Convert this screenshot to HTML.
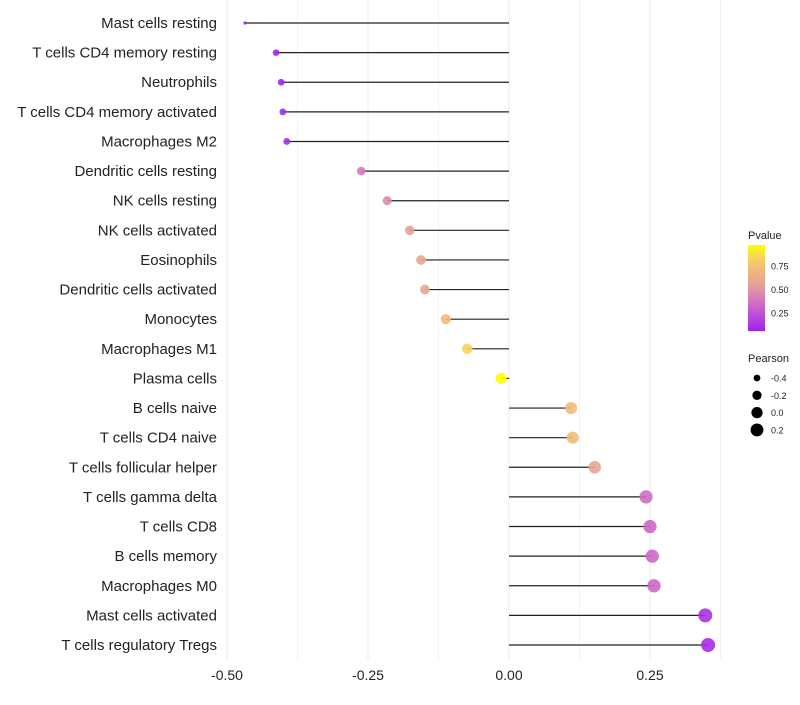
<!DOCTYPE html>
<html><head><meta charset="utf-8"><style>
body{margin:0;background:#fff;font-family:"Liberation Sans",sans-serif}
</style></head><body>
<svg id="chart" width="800" height="700" xmlns="http://www.w3.org/2000/svg"></svg>
<script>
const categories=["Mast cells resting","T cells CD4 memory resting","Neutrophils","T cells CD4 memory activated","Macrophages M2","Dendritic cells resting","NK cells resting","NK cells activated","Eosinophils","Dendritic cells activated","Monocytes","Macrophages M1","Plasma cells","B cells naive","T cells CD4 naive","T cells follicular helper","T cells gamma delta","T cells CD8","B cells memory","Macrophages M0","Mast cells activated","T cells regulatory  Tregs"];
const pearson=[-0.468,-0.413,-0.404,-0.401,-0.394,-0.262,-0.216,-0.176,-0.156,-0.149,-0.112,-0.074,-0.014,0.110,0.113,0.152,0.243,0.250,0.254,0.257,0.348,0.353];
const pvalue=[0.05,0.07,0.08,0.09,0.10,0.40,0.48,0.55,0.58,0.60,0.72,0.85,0.97,0.72,0.72,0.58,0.35,0.33,0.33,0.33,0.12,0.10];
const xTicks=[-0.5,-0.25,0,0.25];
const xTickLabels=["-0.50","-0.25","0.00","0.25"];
const sizeLegend=[-0.4,-0.2,0.0,0.2];
const colorTicks=[0.25,0.5,0.75];

const NS="http://www.w3.org/2000/svg";
const svg=document.getElementById('chart');
const pMin=Math.min(...pearson);
function x(v){return 509+v*564;}
function y(i){return 23+i*(622/21);}
function r(v){if(v<=pMin+1e-9)return 1.6;return Math.sqrt(Math.max(2.5,10.9+50*(v+0.413)));}
const stops=[[0.06,[160,32,240]],[0.35,[207,110,198]],[0.55,[229,161,150]],[0.72,[241,188,119]],[0.85,[245,215,90]],[0.97,[255,255,0]]];
function col(p){
  if(p<=stops[0][0])return `rgb(${stops[0][1]})`;
  for(let k=1;k<stops.length;k++){if(p<=stops[k][0]){const a=stops[k-1],b=stops[k];const t=(p-a[0])/(b[0]-a[0]);return 'rgb('+a[1].map((c,j)=>Math.round(c+(b[1][j]-c)*t)).join(',')+')';}}
  return `rgb(${stops[stops.length-1][1]})`;
}
function el(t,a,txt){const e=document.createElementNS(NS,t);for(const k in a)e.setAttribute(k,a[k]);if(txt!==undefined)e.textContent=txt;svg.appendChild(e);return e;}
for(let g=-0.5;g<=0.375+1e-9;g+=0.125){
  const e=el('line',{x1:x(g),x2:x(g),y1:0,y2:660,stroke:'#ebebeb','stroke-width':Math.abs(g*4-Math.round(g*4))<1e-6?1:0.6});
  
  
}
xTicks.forEach((t,i)=>{
  const e=el('text',{x:x(t),y:680,'font-size':14,'text-anchor':'middle',fill:'#222'},xTickLabels[i]);
  
  
});
categories.forEach((c,i)=>{
  const l=el('text',{x:217,y:y(i)+5,'font-size':15,'text-anchor':'end',fill:'#222'},c);
  
  
  const s=el('line',{x1:x(0),x2:x(pearson[i]),y1:y(i),y2:y(i),stroke:'#222','stroke-width':1.2});
  
  
  const d=el('circle',{cx:x(pearson[i]),cy:y(i),r:r(pearson[i]),fill:col(pvalue[i]),'fill-opacity':0.9});
  
  
});
let t=el('text',{x:748,y:239,'font-size':11,fill:'#222'},'Pvalue');


const defs=el('defs',{});
const lg=document.createElementNS(NS,'linearGradient');lg.setAttribute('id','pg');lg.setAttribute('x1','0');lg.setAttribute('x2','0');lg.setAttribute('y1','1');lg.setAttribute('y2','0');
defs.appendChild(lg);
const pTop=0.97,pBot=0.06,bTop=245,bBot=331;
stops.forEach(s=>{const st=document.createElementNS(NS,'stop');st.setAttribute('offset',(s[0]-pBot)/(pTop-pBot));st.setAttribute('stop-color',`rgb(${s[1]})`);lg.appendChild(st);});
t=el('rect',{x:748,y:bTop,width:17,height:bBot-bTop,fill:'url(#pg)'});


colorTicks.forEach(v=>{
  const yy=bBot-(v-pBot)/(pTop-pBot)*(bBot-bTop);
  const a=el('text',{x:771,y:yy+3.5,'font-size':9,fill:'#222'},v.toFixed(2));
  
  
});
t=el('text',{x:748,y:362,'font-size':11,fill:'#222'},'Pearson');


sizeLegend.forEach((v,i)=>{
  const yy=378+i*17.3;
  const c=el('circle',{cx:757,cy:yy,r:r(v),fill:'#000'});
  
  
  const a=el('text',{x:771,y:yy+3.5,'font-size':9,fill:'#222'},v.toFixed(1));
  
  
});
</script>
</body></html>
